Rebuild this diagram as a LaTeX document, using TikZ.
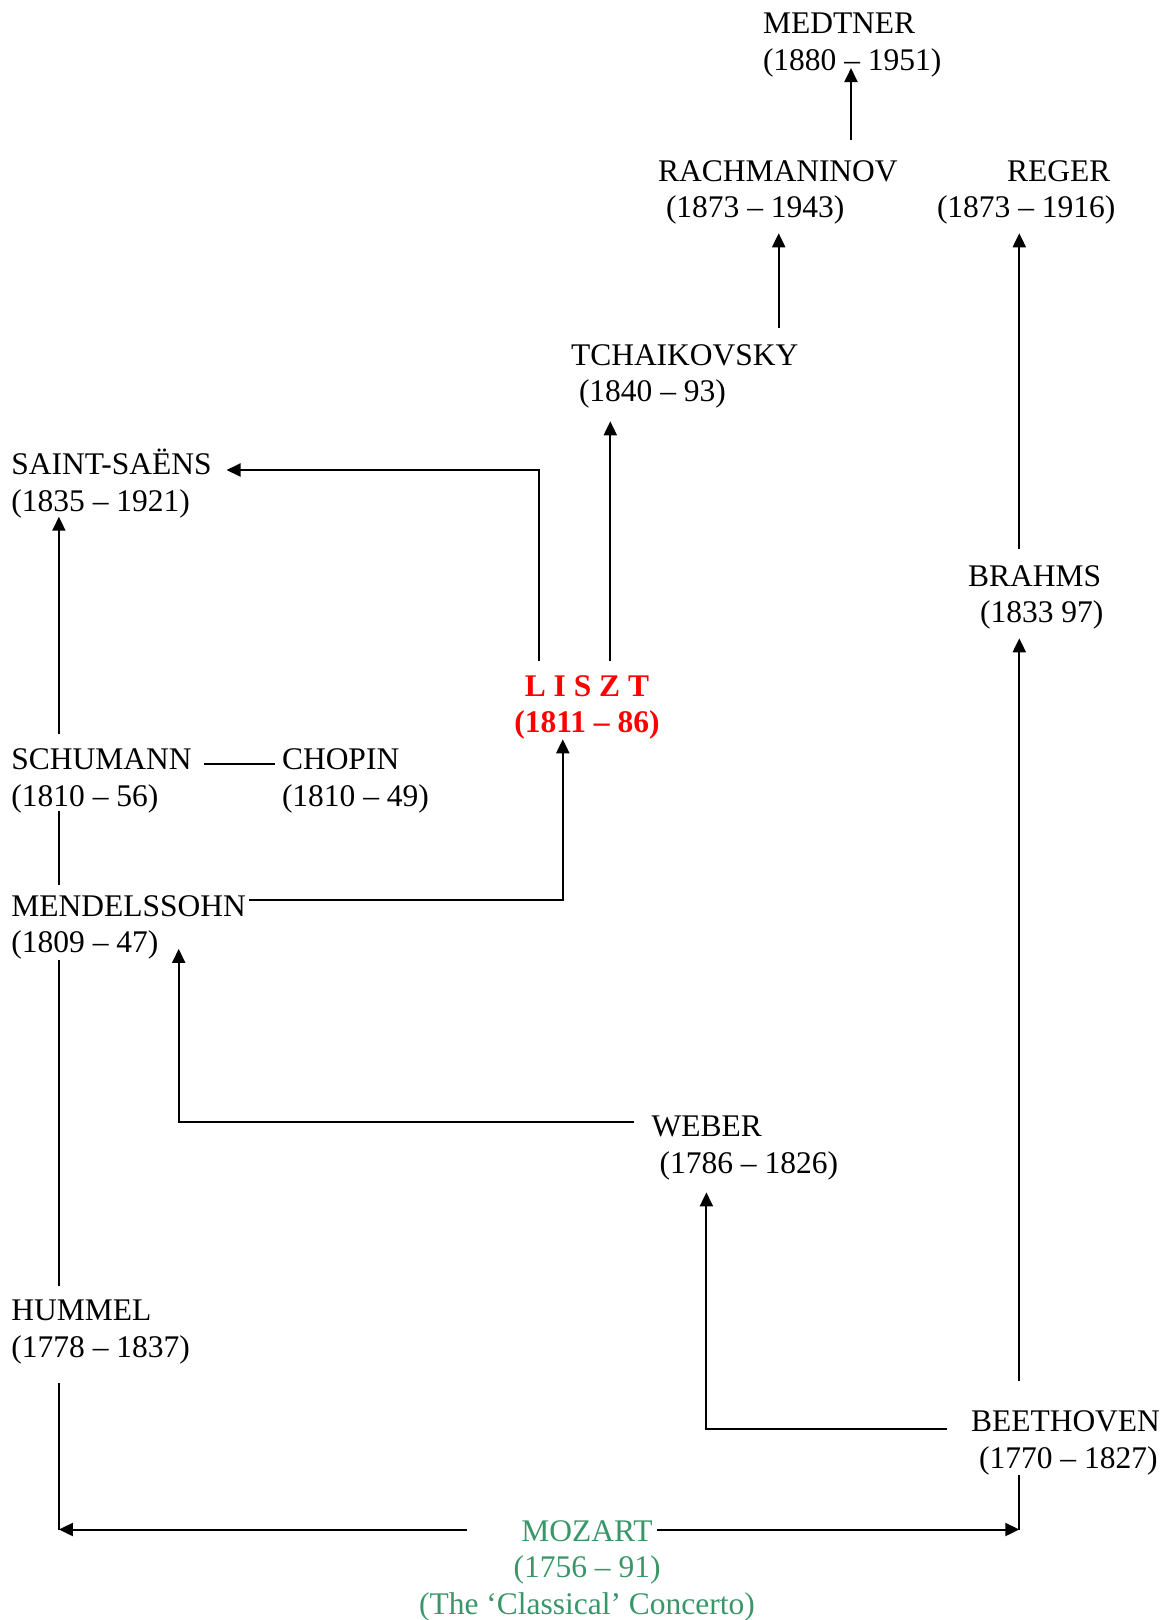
\documentclass[tikz,border=0pt]{standalone}
\usepackage{fontspec}
\setmainfont{Liberation Serif}
\usetikzlibrary{arrows.meta}
\definecolor{mozgreen}{RGB}{58,150,104}
\definecolor{lisztred}{RGB}{255,0,0}

\begin{document}
\begin{tikzpicture}[x=1pt,y=-1pt,>={Triangle[length=14pt,width=13pt]},
  every node/.style={font=\fontsize{31.5}{36.5}\selectfont,inner sep=0pt,outer sep=0pt},
  comp/.style={align=left,anchor=north west},
  link/.style={line width=2pt},arr/.style={->,line width=2pt}]
\useasboundingbox (0,0) rectangle (1168,1620);
% composers
\node[comp] (medtner) at (763,13.2) {MEDTNER\\(1880 – 1951)};
\node[comp] (rach) at (658,160.2) {RACHMANINOV\\\hspace*{8pt}(1873 – 1943)};
\node[comp] (reger) at (937,160.2) {\hspace*{70pt}REGER\\(1873 – 1916)};
\node[comp] (tch) at (571,344.2) {TCHAIKOVSKY\\\hspace*{8pt}(1840 – 93)};
\node[comp] (saint) at (11.4,449) {SAINT-SAËNS\\(1835 – 1921)};
\node[comp] (brahms) at (968,565.2) {BRAHMS\\\hspace*{12pt}(1833 97)};
\node[comp,align=center,anchor=north,text=lisztred,font=\fontsize{31.5}{36.5}\selectfont\bfseries] (liszt) at (587,675.2) {L I S Z T\\(1811 – 86)};
\node[comp] (schu) at (11.4,748.7) {SCHUMANN\\(1810 – 56)};
\node[comp] (chopin) at (282,748.7) {CHOPIN\\(1810 – 49)};
\node[comp] (mend) at (11.4,895.2) {MENDELSSOHN\\(1809 – 47)};
\node[comp] (weber) at (651.6,1116.2) {WEBER\\\hspace*{8pt}(1786 – 1826)};
\node[comp] (hummel) at (11.4,1300.2) {HUMMEL\\(1778 – 1837)};
\node[comp] (beet) at (971,1410.7) {BEETHOVEN\\\hspace*{8pt}(1770 – 1827)};
\node[comp,align=center,anchor=north,text=mozgreen] (mozart) at (587,1520.2) {MOZART\\(1756 – 91)\\(The ‘Classical’ Concerto)};
% vertical lines
\coordinate (xHu) at (58.9,0);\coordinate (xMe) at (178.7,0);\coordinate (xSa) at (539,0);\coordinate (xLi) at (562.8,0);
\coordinate (xTc) at (610.3,0);\coordinate (xWe) at (706.4,0);\coordinate (xRa) at (778.7,0);\coordinate (xMd) at (851,0);\coordinate (xBr) at (1019.3,0);
\draw[arr,shorten <=20.2pt,shorten >=-9pt] (rach.north -| xMd) -- (medtner.south -| xMd);
\draw[arr,shorten <=16.2pt,shorten >=9pt] (tch.north -| xRa) -- (rach.south -| xRa);
\draw[arr,shorten <=16.2pt,shorten >=9pt] (brahms.north -| xBr) -- (reger.south -| xBr);
\draw[arr,shorten <=14.2pt,shorten >=13pt] (liszt.north -| xTc) -- (tch.south -| xTc);
\draw[arr,shorten <=14.2pt,shorten >=15pt] (liszt.north -| xSa) |- ([yshift=-21pt]saint.north east);
\draw[arr,shorten <=30.2pt,shorten >=9pt] (beet.north -| xBr) -- (brahms.south -| xBr);
\draw[arr,shorten <=15.2pt,shorten >=-1pt] (schu.north -| xHu) -- (saint.south -| xHu);
\draw[link,shorten <=-2pt,shorten >=10.2pt] (schu.south -| xHu) -- (mend.north -| xHu);
\draw[link,shorten <=14.5pt,shorten >=1pt] (hummel.north -| xHu) -- (mend.south -| xHu);
\draw[link,shorten <=12pt,shorten >=7pt] ([yshift=-15.5pt]schu.north east) -- ([yshift=-15.5pt]chopin.north west);
\draw[arr,shorten <=3pt] ([yshift=-4.3pt]mend.north east) -| (liszt.south -| xLi);
\draw[arr,shorten <=17.6pt,shorten >=-10.4pt] ([yshift=-5.3pt]weber.north west) -| (mend.south -| xMe);
\draw[arr,shorten <=24pt,shorten >=12.3pt] ([yshift=-18.6pt]beet.north west) -| (weber.south -| xWe);
% Mozart
\coordinate (mzL) at ([xshift=-120.2pt,yshift=-9.3pt]mozart.north);
\coordinate (mzR) at ([xshift=69.8pt,yshift=-9.3pt]mozart.north);
\draw[arr] (mzL) -- (mzL -| xHu);
\draw[arr] (mzR) -- (mzR -| xBr);
\draw[link,shorten <=19pt] (hummel.south -| xHu) -- (mzL -| xHu);
\draw[link] (beet.south -| xBr) -- (mzR -| xBr);
\end{tikzpicture}
\end{document}
